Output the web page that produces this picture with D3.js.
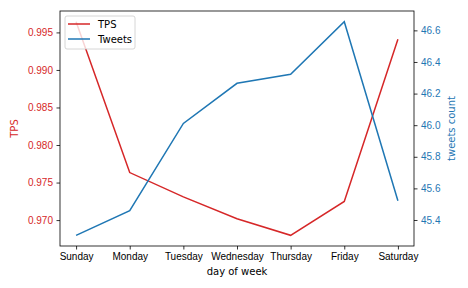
<!DOCTYPE html>
<html>
<head>
<meta charset="utf-8">
<script src="https://cdn.jsdelivr.net/npm/d3@7"></script>
<style>
  body { margin: 0; background: #fff; }
  svg { font-family: "DejaVu Sans", sans-serif; }
</style>
</head>
<body>
<script>
const width = 468
const height = 288
const margin = ({top: 11, right: 54, bottom: 42, left: 60})

const days = ["Sunday", "Monday", "Tuesday", "Wednesday", "Thursday", "Friday", "Saturday"]
const tps = [0.99643, 0.97633, 0.97309, 0.97017, 0.96797, 0.97248, 0.99410]
const tweets = [45.303, 45.459, 46.011, 46.265, 46.322, 46.655, 45.522]
const tpsTicks = [0.970, 0.975, 0.980, 0.985, 0.990, 0.995]
const tweetTicks = [45.4, 45.6, 45.8, 46.0, 46.2, 46.4, 46.6]

const red = "#d62728"
const blue = "#1f77b4"

// matplotlib style 5% padding around the data
function padded(vals) {
    const [lo, hi] = d3.extent(vals)
    const m = (hi - lo) * 0.05
    return [lo - m, hi + m]
}

const x = d3.scaleLinear()
    .domain([-0.3, days.length - 1 + 0.3])
    .range([margin.left, width - margin.right])

const yL = d3.scaleLinear()
    .domain(padded(tps))
    .range([height - margin.bottom, margin.top])

const yR = d3.scaleLinear()
    .domain(padded(tweets))
    .range([height - margin.bottom, margin.top])

const svg = d3.select("body").append("svg").attr("width", width).attr("height", height)

const styleAxis = (g, color) => {
    g.select(".domain").remove()
    g.selectAll(".tick line").attr("stroke", "#000").attr("stroke-width", 0.8)
    g.selectAll(".tick text").attr("fill", color).attr("font-size", 10)
}

svg.append("g")
    .attr("transform", `translate(0,${height - margin.bottom})`)
    .call(d3.axisBottom(x).tickValues(d3.range(days.length)).tickFormat(i => days[i]).tickSize(3.5).tickPadding(3.5))
    .call(g => styleAxis(g, "#000"))

svg.append("g")
    .attr("transform", `translate(${margin.left},0)`)
    .call(d3.axisLeft(yL).tickValues(tpsTicks).tickFormat(d3.format(".3f")).tickSize(3.5).tickPadding(3.5))
    .call(g => styleAxis(g, red))

svg.append("g")
    .attr("transform", `translate(${width - margin.right},0)`)
    .call(d3.axisRight(yR).tickValues(tweetTicks).tickFormat(d3.format(".1f")).tickSize(3.5).tickPadding(3.5))
    .call(g => styleAxis(g, blue))

const lineL = d3.line().x((d, i) => x(i)).y(d => yL(d))
const lineR = d3.line().x((d, i) => x(i)).y(d => yR(d))

svg.append("path")
    .datum(tps)
    .attr("fill", "none")
    .attr("stroke", red)
    .attr("stroke-width", 1.5)
    .attr("d", lineL)

svg.append("path")
    .datum(tweets)
    .attr("fill", "none")
    .attr("stroke", blue)
    .attr("stroke-width", 1.5)
    .attr("d", lineR)

// frame
svg.append("rect")
    .attr("x", margin.left)
    .attr("y", margin.top)
    .attr("width", width - margin.left - margin.right)
    .attr("height", height - margin.top - margin.bottom)
    .attr("fill", "none")
    .attr("stroke", "#000")
    .attr("stroke-width", 0.8)

// axis labels
svg.append("text")
    .attr("x", (margin.left + width - margin.right) / 2)
    .attr("y", 275)
    .attr("text-anchor", "middle")
    .attr("font-size", 10)
    .text("day of week")

svg.append("text")
    .attr("transform", `translate(18,${(margin.top + height - margin.bottom) / 2}) rotate(-90)`)
    .attr("text-anchor", "middle")
    .attr("font-size", 10)
    .attr("fill", red)
    .text("TPS")

svg.append("text")
    .attr("transform", `translate(455,${(margin.top + height - margin.bottom) / 2}) rotate(-90)`)
    .attr("text-anchor", "middle")
    .attr("font-size", 10)
    .attr("fill", blue)
    .text("tweets count")

// legend
const legend = svg.append("g").attr("transform", "translate(65,16)")
legend.append("rect")
    .attr("width", 70).attr("height", 33).attr("rx", 2)
    .attr("fill", "#fff").attr("fill-opacity", 0.8)
    .attr("stroke", "#ccc").attr("stroke-width", 0.8)
const items = [{name: "TPS", color: red}, {name: "Tweets", color: blue}]
items.forEach((d, i) => {
    const gy = 8 + i * 15
    legend.append("line")
        .attr("x1", 3).attr("x2", 25).attr("y1", gy).attr("y2", gy)
        .attr("stroke", d.color).attr("stroke-width", 1.5)
    legend.append("text")
        .attr("x", 33).attr("y", gy).attr("dy", "0.35em")
        .attr("font-size", 10)
        .text(d.name)
})
</script>
</body>
</html>
